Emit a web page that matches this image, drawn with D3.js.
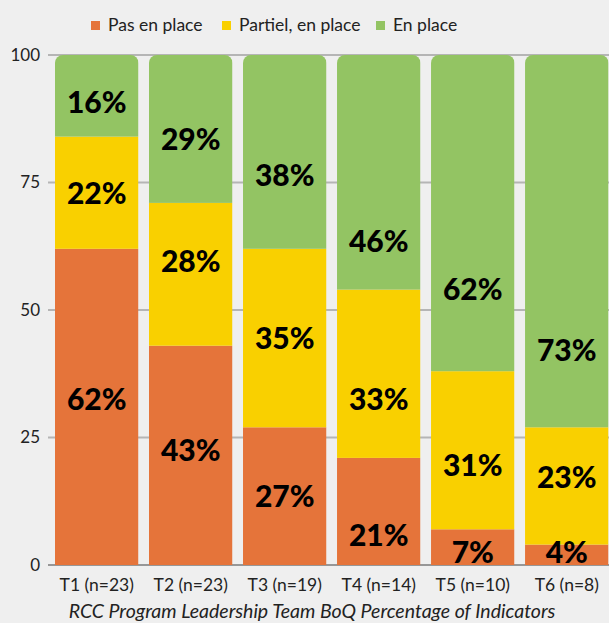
<!DOCTYPE html>
<html><head><meta charset="utf-8">
<script src="https://cdn.jsdelivr.net/npm/d3@7"></script>
<style>
html,body{margin:0;padding:0;background:#efefef;}
svg{display:block;}
</style></head>
<body>
<svg id="chart" width="609" height="623"></svg>
<script>
const categories = ["T1 (n=23)", "T2 (n=23)", "T3 (n=19)", "T4 (n=14)", "T5 (n=10)", "T6 (n=8)"];
const seriesNames = ["Pas en place", "Partiel, en place", "En place"];
const pasEnPlace = [62, 43, 27, 21, 7, 4];
const partiel = [22, 28, 35, 33, 31, 23];
const enPlace = [16, 29, 38, 46, 62, 73];
// label anchor values (in % units) as placed in the reference
const pasLabelAt = [32.5, 22.6, 13.4, 5.9, 2.5, 2.5];
const partielLabelAt = [73.0, 59.6, 44.4, 32.6, 19.6, 17.3];
const enPlaceLabelAt = [90.8, 83.4, 76.5, 63.4, 54.0, 42.2];
const yTicks = [0, 25, 50, 75, 100];
const title = "RCC Program Leadership Team BoQ Percentage of Indicators";

const colors = ["#E5743A", "#F9D000", "#93C463"];
const seriesValues = [pasEnPlace, partiel, enPlace];
const labelAts = [pasLabelAt, partielLabelAt, enPlaceLabelAt];

const svg = d3.select("#chart");
const W = 609, H = 623;
svg.append("rect").attr("width", W).attr("height", H).attr("fill", "#efefef");

const x = d3.scaleBand().domain(categories).range([55, 608.5]).paddingInner(0.112).paddingOuter(0);
const y = d3.scaleLinear().domain([0, 100]).range([565, 55]);

// gridlines
svg.append("g").selectAll("line").data(yTicks.filter(t => t > 0)).join("line")
  .attr("x1", 48).attr("x2", W).attr("y1", d => y(d)).attr("y2", d => y(d))
  .attr("stroke", "#b5b5b5").attr("stroke-width", 2);
svg.append("line").attr("x1", 48).attr("x2", W).attr("y1", y(0)).attr("y2", y(0))
  .attr("stroke", "#7a7a7a").attr("stroke-width", 1.5);

// stacked data
const table = categories.map((c, i) => {
  const o = {cat: c};
  seriesNames.forEach((s, k) => o[s] = seriesValues[k][i]);
  return o;
});
const stack = d3.stack().keys(seriesNames)(table);

const defs = svg.append("defs");
categories.forEach((c, i) => {
  const total = d3.sum(seriesValues, s => s[i]);
  defs.append("clipPath").attr("id", "clip" + i).append("rect")
    .attr("x", x(c)).attr("y", y(total)).attr("width", x.bandwidth())
    .attr("height", y(0) - y(total) + 10).attr("rx", 8).attr("ry", 8);
});

const bars = svg.append("g");
stack.forEach((layer, k) => {
  layer.forEach((d, i) => {
    bars.append("rect")
      .attr("clip-path", `url(#clip${i})`)
      .attr("x", x(categories[i])).attr("width", x.bandwidth())
      .attr("y", y(d[1])).attr("height", y(d[0]) - y(d[1]))
      .attr("fill", colors[k]);
  });
});

// labels
const lab = svg.append("g");
seriesValues.forEach((vals, k) => {
  vals.forEach((v, i) => {
    lab.append("text")
      .attr("x", x(categories[i]) + x.bandwidth() / 2)
      .attr("y", y(labelAts[k][i]))
      .attr("dy", "0.36em")
      .attr("text-anchor", "middle")
      .attr("font-family", "Lato, sans-serif").attr("font-weight", 900)
      .attr("font-size", 30).attr("fill", "#000")
      .text(v + "%");
  });
});

// y axis
const yAxis = svg.append("g").attr("transform", "translate(40,0)")
  .call(d3.axisLeft(y).tickValues(yTicks).tickSize(0).tickPadding(0).tickFormat(d3.format("d")));
yAxis.select(".domain").remove();
yAxis.selectAll("text").attr("font-family", "Lato, sans-serif").attr("font-size", 17).attr("fill", "#222");

// x axis
const xAxis = svg.append("g").attr("transform", `translate(0,${y(0)})`)
  .call(d3.axisBottom(x).tickSize(0).tickPadding(14));
xAxis.select(".domain").remove();
xAxis.selectAll("text").attr("font-family", "Lato, sans-serif").attr("font-size", 17.5).attr("fill", "#222");

// title
svg.append("text").attr("x", 312).attr("y", 618).attr("text-anchor", "middle")
  .attr("font-family", "Lato, sans-serif").attr("font-style", "italic").attr("font-size", 19.5)
  .attr("fill", "#222").text(title);

// legend
const legendX = [91, 222, 376];
const lg = svg.append("g");
seriesNames.forEach((s, k) => {
  lg.append("rect").attr("x", legendX[k]).attr("y", 21).attr("width", 9).attr("height", 9).attr("fill", colors[k]);
  lg.append("text").attr("x", legendX[k] + 17).attr("y", 25).attr("dy", "0.35em")
    .attr("font-family", "Lato, sans-serif").attr("font-size", 17.5).attr("fill", "#222").text(s);
});
</script>
</body></html>
